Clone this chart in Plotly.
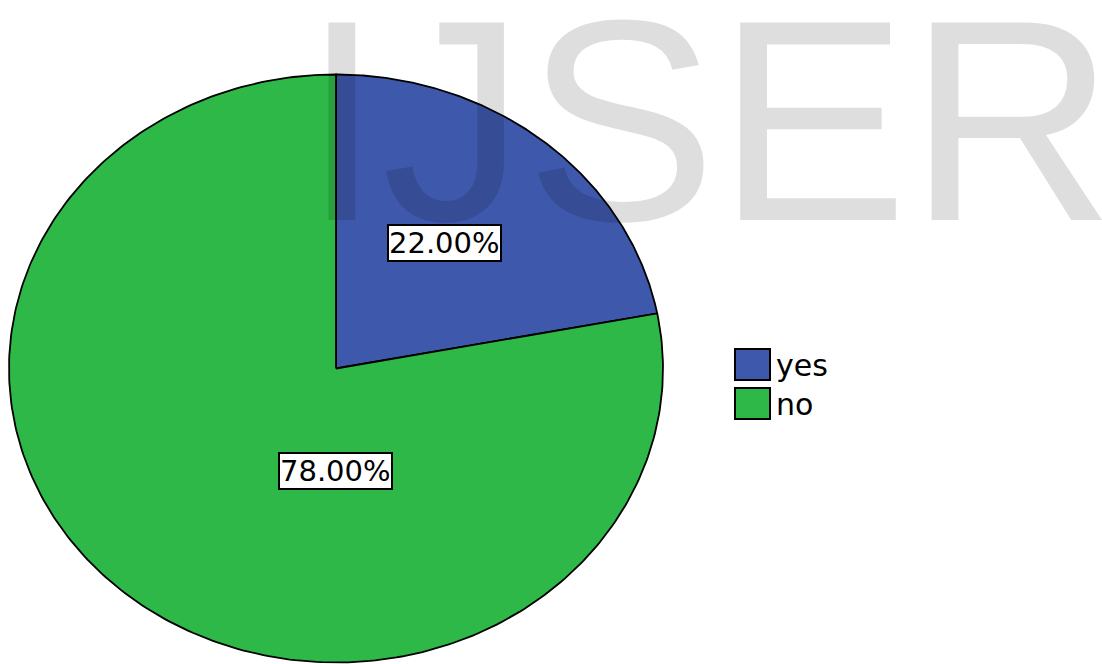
import numpy as np
import plotly.graph_objects as go

# ---- data ----
categories = ["yes", "no"]
percents = [22.00, 78.00]
label_texts = ["22.00%", "78.00%"]
colors = ["#3E58AC", "#2EB848"]
watermark = "IJSER"

# ---- layout constants (pixel-like coordinates) ----
W, H = 1102, 664
CX, CY = 336.0, 368.5
RX, RY = 327.0, 294.0
label_pos = [(444, 243), (335, 471)]

fig = go.Figure()

start = 0.0
for cat, pct, col in zip(categories, percents, colors):
    span = pct / 100.0 * 2 * np.pi
    t = np.linspace(start, start + span, 300)
    xs = np.concatenate([[CX], CX + RX * np.sin(t), [CX]])
    ys = np.concatenate([[CY], CY - RY * np.cos(t), [CY]])
    fig.add_trace(go.Scatter(
        x=xs, y=ys, mode="lines", fill="toself", fillcolor=col,
        line=dict(color="black", width=1.8), name=cat, showlegend=False,
        hoverinfo="skip"))
    start += span

# watermark
fig.add_annotation(x=708, y=120, xref="x", yref="y", text=watermark,
                   showarrow=False, xanchor="center", yanchor="middle",
                   font=dict(family="Liberation Sans, Arial", size=287,
                             color="rgba(0,0,0,0.13)"))

# slice labels
for (lx, ly), txt in zip(label_pos, label_texts):
    fig.add_annotation(x=lx, y=ly, xref="x", yref="y", text=txt,
                       showarrow=False, xanchor="center", yanchor="middle",
                       bgcolor="white", bordercolor="black", borderwidth=2,
                       borderpad=0,
                       font=dict(family="DejaVu Sans", size=29, color="black"))

# legend (manual)
leg_x0, leg_y0, box_w, box_h, step = 735, 349, 35, 31, 39
for i, (cat, col) in enumerate(zip(categories, colors)):
    y0 = leg_y0 + i * step
    fig.add_shape(type="rect", x0=leg_x0, x1=leg_x0 + box_w, y0=y0, y1=y0 + box_h,
                  xref="x", yref="y", fillcolor=col,
                  line=dict(color="black", width=2), layer="above")
    fig.add_annotation(x=leg_x0 + box_w + 4, y=y0 + box_h / 2 + 1, xref="x", yref="y",
                       text=cat, showarrow=False, xanchor="left", yanchor="middle",
                       font=dict(family="DejaVu Sans", size=30, color="black"))

fig.update_xaxes(range=[0, W], visible=False, fixedrange=True)
fig.update_yaxes(range=[H, 0], visible=False, fixedrange=True)
fig.update_layout(width=W, height=H, margin=dict(l=0, r=0, t=0, b=0),
                  paper_bgcolor="white", plot_bgcolor="white", showlegend=False)

fig.write_html("out.html")
